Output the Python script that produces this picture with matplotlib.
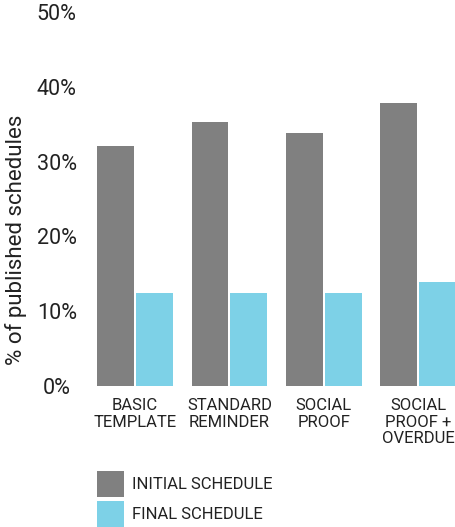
import numpy as np
import matplotlib
matplotlib.use('Agg')
import matplotlib.pyplot as plt

plt.rcParams['font.family'] = ['Roboto', 'DejaVu Sans']

# data
categories = ['BASIC\nTEMPLATE', 'STANDARD\nREMINDER', 'SOCIAL\nPROOF', 'SOCIAL\nPROOF +\nOVERDUE']
initial = [32.1, 35.3, 33.8, 37.9]
final = [12.4, 12.4, 12.4, 13.9]
yticks = [0, 10, 20, 30, 40, 50]

grey = '#808080'
blue = '#7dd1e7'
txt = '#222222'

fig = plt.figure(figsize=(4.55, 5.27), dpi=100)
# axes placed in pixels of the 455x527 figure
left, right, top, bottom = 95, 455, 12, 386
ax = fig.add_axes([left/455, 1-bottom/527, (right-left)/455, (bottom-top)/527])

x = np.arange(len(categories))
w = 0.39
ax.bar(x - 0.205, initial, width=w, color=grey, label='INITIAL SCHEDULE')
ax.bar(x + 0.205, final, width=w, color=blue, label='FINAL SCHEDULE')

ax.set_xlim(-0.424, 3.39)
ax.set_ylim(0, 50)
ax.set_yticks(yticks)
ax.set_yticklabels(['%d%%' % t for t in yticks], fontsize=15.5, color=txt, ha='center')
ax.set_xticks(x)
ax.set_xticklabels(categories, fontsize=12, color=txt, linespacing=1.12, va='top')
ax.tick_params(axis='both', length=0)
ax.tick_params(axis='y', pad=27.5)
ax.tick_params(axis='x', pad=9)
for s in ax.spines.values():
    s.set_visible(False)

ax.set_ylabel('% of published schedules', fontsize=16, color=txt)
ax.yaxis.set_label_coords(-0.19, 0.39)

fig.legend(loc='upper left', bbox_to_anchor=(92/455, 1-466/527), frameon=False,
           fontsize=12, handlelength=1.62, handleheight=2.0, labelspacing=0.25,
           handletextpad=0.45, borderaxespad=0, borderpad=0.3)
for t in fig.legends[0].get_texts():
    t.set_color(txt)

plt.savefig('out.png', dpi=100)
